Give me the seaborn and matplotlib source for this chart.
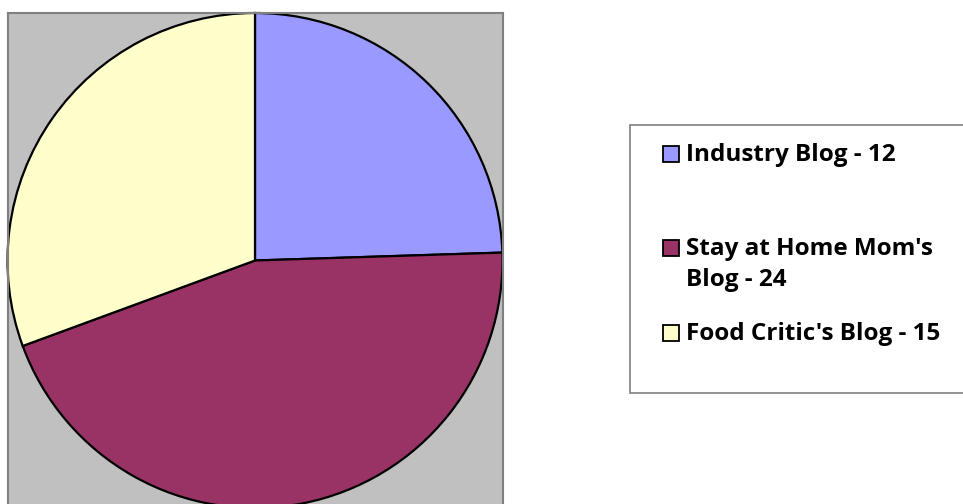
import matplotlib
matplotlib.use("Agg")
import matplotlib.pyplot as plt
import seaborn as sns
from matplotlib.patches import Rectangle

categories = ["Industry Blog", "Stay at Home Mom's Blog", "Food Critic's Blog"]
# slice sizes as drawn in the picture
values = [12, 22, 15]
colors = ["#9999FF", "#993366", "#FFFFCC"]
# legend text as printed in the picture
legend_labels = ["Industry Blog - 12", "Stay at Home Mom's\nBlog - 24", "Food Critic's Blog - 15"]

sns.set_theme(style="white")
plt.rcParams['font.family'] = ['Open Sans', 'DejaVu Sans']

W, H = 963, 504
fig = plt.figure(figsize=(W / 100, H / 100), dpi=100)
fig.patch.set_facecolor("white")

# plot area in pixel coordinates
L, R, T, B = 8, 503, 13, 510
ax = fig.add_axes([L / W, (H - B) / H, (R - L) / W, (B - T) / H])
ax.pie(values, colors=colors, startangle=90, counterclock=False,
       center=(255, H - 260.5), radius=247.5, frame=True,
       wedgeprops=dict(edgecolor="black", linewidth=1.6))
ax.set_facecolor("#C0C0C0")
ax.set_frame_on(True)
ax.set_xlim(L, R)
ax.set_ylim(H - B, H - T)
ax.set_aspect("auto")
ax.set_xticks([])
ax.set_yticks([])
for s in ax.spines.values():
    s.set_visible(True)
    s.set_color("#808080")
    s.set_linewidth(1.5)

# legend box
lax = fig.add_axes([0, 0, 1, 1], facecolor="none")
lax.set_xlim(0, W)
lax.set_ylim(H, 0)
lax.axis("off")
lax.add_patch(Rectangle((630, 125), 340, 268, facecolor="white",
                        edgecolor="#808080", linewidth=1.2))
rows = [155, 249, 334]
for c, lab, y in zip(colors, legend_labels, rows):
    lax.add_patch(Rectangle((663, y - 9), 16, 16, facecolor=c,
                            edgecolor="black", linewidth=1.3))
    for i, line in enumerate(lab.split("\n")):
        lax.text(686, y + i * 31, line, fontsize=17.5, fontweight="bold",
                 va="center", ha="left", color="black")

fig.savefig("out.png", dpi=100)
